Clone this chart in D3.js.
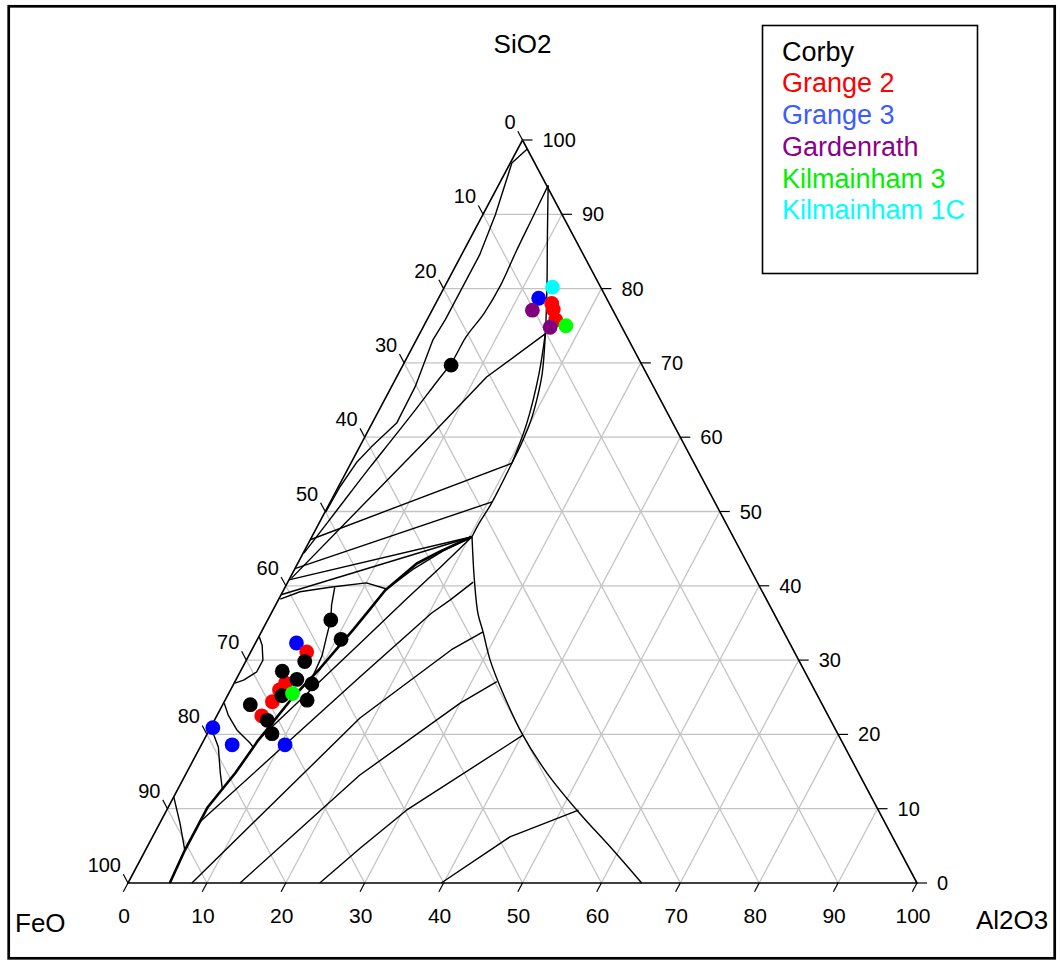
<!DOCTYPE html>
<html><head><meta charset="utf-8">
<script src="https://cdn.jsdelivr.net/npm/d3@7"></script>
<style>
body{margin:0;background:#fff}
svg{display:block}
text{font-family:"Liberation Sans",Arial,Helvetica,sans-serif}
</style>
</head><body>
<svg id="chart" width="1060" height="960"></svg>
<script>
// ---------- data ----------
const tickValues = [0,10,20,30,40,50,60,70,80,90,100];
const gridValues = [10,20,30,40,50,60,70,80,90];
const titleTop = "SiO2", titleLeft = "FeO", titleRight = "Al2O3";
const legendNames = ["Corby","Grange 2","Grange 3","Gardenrath","Kilmainham 3","Kilmainham 1C"];
const legendColors = ["#000000","#ff0000","#3d5cff","#8c008c","#00f000","#00ffff"];

// samples as [FeO, Al2O3, SiO2] (wt %)
const corby = [[24.2,6.1,69.7],[56.6,8.0,35.4],[56.6,10.6,32.8],[62.7,7.5,29.8],[66.2,5.3,28.5],[64.9,7.7,27.4],
  [63.3,9.9,26.8],[67.9,6.9,25.2],[65.0,10.4,24.6],[72.5,3.5,24.0],[71.4,6.7,21.9],[71.7,8.2,20.1]];
const grange2 = [[7.3,14.7,78.0],[7.5,15.3,77.2],[7.9,16.3,75.8],[61.8,7.1,31.1],[66.6,6.5,26.9],[67.8,6.2,26.0],
  [69.5,6.1,24.4],[71.8,5.7,22.5]];
const grange3 = [[8.6,12.7,78.7],[62.5,5.2,32.3],[78.8,0.3,20.9],[77.5,3.9,18.6],[70.8,10.6,18.6]];
const gardenrath = [[10.2,12.7,77.1],[9.1,16.1,74.8]];
const kilmainham3 = [[7.0,18.0,75.0],[66.4,8.1,25.5]];
const kilmainham1C = [[6.1,13.7,80.2]];

// liquidus / field boundary lines as [Al2O3, SiO2]
const silicaCurve = [[1.2,98.8],[0.2,96.9],[1.6,89.9],[2.3,84.5],[2.3,80.2],[2.3,75.8],[2.1,73.1],[3.0,66.8],[3.1,61.9],[1.5,58.7],[0.7,56.7],[0.2,53.3],[0.1,49.9]];
const cristobaliteCurve = [[6.3,93.9],[6.5,89.5],[6.7,84.9],[7.0,80.5],[6.8,76.7],[6.1,73.5],[6.0,70.1],[5.4,67.4],[4.5,63.3],[3.6,59.6],[2.7,56.0],[1.4,50.2],[0.1,44.4]];
const mulliteBoundary = [[6.3,93.9],[9.9,86.5],[13.0,80.2],[15.9,74.0],[18.2,68.6],[19.3,65.0],[20.0,61.9],[20.3,59.0],[20.4,56.5],[20.5,53.3],[20.5,50.7],[20.3,48.6],[20.3,46.6]];
const mulliteBoundary2 = [[15.9,74.0],[17.8,68.6],[19.6,61.9],[20.4,56.5]];
const tridymiteIso1 = [[16.0,74.0],[11.4,68.1],[8.0,59.6],[0.2,41.0]];
const tridymiteIso2 = [[0.0,46.2],[20.4,56.5]];
const tridymiteIso3 = [[0.0,42.3],[20.5,51.3]];
const tridymiteIso4 = [[0.0,40.8],[20.3,46.6]];
const tridymiteIso5 = [[0.0,38.8],[20.3,46.6]];
const fayaliteBoundary = [[0.2,38.2],[2.2,39.2],[5.7,39.8],[10.0,40.4],[12.9,39.6]];
const fayaliteDrop = [[6.3,39.8],[7.1,37.4],[8.0,35.4],[8.6,33.1],[9.3,30.6],[9.5,27.9]];
const hercyniteBoundary = [[5.3,0],[5.0,4.4],[5.0,10.2],[6.2,14.8],[6.9,19.2],[8.4,25.0],[9.9,28.9],[11.5,34.1],[12.2,36.7],[12.9,39.4],[15.1,43.0],[17.2,44.6],[20.3,46.6]];
const hercyniteBoundary2 = [[12.9,39.4],[15.0,42.2],[17.6,44.7],[20.3,46.6]];
const corundumBoundary = [[20.3,46.6],[23.5,40.8],[26.2,36.3],[28.1,33.8],[30.9,30.0],[34.7,25.6],[40.1,19.9],[45.7,14.8],[52.0,9.8],[59.3,4.4],[65.1,0]];
const hercyniteIso1 = [[6.8,19.1],[13.3,32.3],[16.1,38.1],[18.3,42.4],[20.3,46.6]];
const hercyniteIso2 = [[5.0,8.2],[10.6,18.6],[15.5,27.7],[20.3,36.3],[21.8,38.1],[23.5,40.5]];
const hercyniteIso3 = [[8.1,0],[18.3,22.2],[25.3,31.4],[28.1,33.8]];
const hercyniteIso4 = [[14.2,0],[22.1,14.5],[30.0,24.2],[33.2,27.1]];
const hercyniteIso5 = [[24.3,0],[27.1,4.7],[30.4,9.8],[40.1,19.9]];
const hercyniteIso6 = [[39.7,0],[45.3,6.2],[52.2,9.8]];
const wustiteLine1 = [[0.1,33.1],[1.0,32.0],[2.1,30.0],[2.1,28.4],[1.0,27.3],[0.1,26.9]];
const wustiteLine2 = [[0.1,24.2],[1.4,22.6],[3.5,20.6],[6.1,18.8],[6.7,18.3]];
const wustiteLine3 = [[0.0,21.0],[2.3,18.3],[4.3,14.8],[5.6,12.7]];
const wustiteLine4 = [[0.0,11.6],[2.6,8.0],[5.0,4.4]];

// ---------- layout ----------
const svg = d3.select("#chart");
const xBase = d3.scaleLinear().domain([0,100]).range([128,917]);
const yBase = d3.scaleLinear().domain([0,100]).range([883,140]);
const px = (a,s) => xBase(a + s/2);
const py = s => yBase(s);

svg.append("rect").attr("x",8.7).attr("y",6.3).attr("width",1046).attr("height",952)
  .attr("fill","none").attr("stroke","#000").attr("stroke-width",2.7);

// grid
const grid = svg.append("g").attr("stroke","#c4c4c4").attr("stroke-width",1.3);
gridValues.forEach(v => {
  grid.append("line").attr("x1",px(0,v)).attr("y1",py(v)).attr("x2",px(100-v,v)).attr("y2",py(v));
  grid.append("line").attr("x1",px(v,0)).attr("y1",py(0)).attr("x2",px(v,100-v)).attr("y2",py(100-v));
  grid.append("line").attr("x1",px(0,100-v)).attr("y1",py(100-v)).attr("x2",px(100-v,0)).attr("y2",py(0));
});

// phase diagram lines
const lineGen = d3.line().x(d=>px(d[0],d[1])).y(d=>py(d[1]));
const smoothGen = d3.line().x(d=>px(d[0],d[1])).y(d=>py(d[1])).curve(d3.curveCatmullRom.alpha(0.5));
const smoothLines = [cristobaliteCurve,mulliteBoundary,mulliteBoundary2,corundumBoundary];
const straightLines = [silicaCurve,tridymiteIso1,tridymiteIso2,tridymiteIso3,tridymiteIso4,tridymiteIso5,fayaliteBoundary,fayaliteDrop,
  hercyniteIso1,hercyniteIso2,hercyniteIso3,hercyniteIso4,hercyniteIso5,hercyniteIso6,hercyniteBoundary2,
  wustiteLine1,wustiteLine2,wustiteLine3,wustiteLine4];
const pg = svg.append("g").attr("fill","none").attr("stroke","#000").attr("stroke-linejoin","round");
smoothLines.forEach(l => pg.append("path").attr("d",smoothGen(l)).attr("stroke-width",1.4));
straightLines.forEach(l => pg.append("path").attr("d",lineGen(l)).attr("stroke-width",1.4));
pg.append("path").attr("d",lineGen(hercyniteBoundary)).attr("stroke-width",2.6);

// triangle
const tri = [[0,0],[100,0],[0,100]];
svg.append("path").attr("d",lineGen(tri)+"Z").attr("fill","none").attr("stroke","#000").attr("stroke-width",1.6);

// tick directions
const vL = [px(0,0),py(0)], vR = [px(100,0),py(0)], vT = [px(0,100),py(100)];
function unit(a,b){const dx=b[0]-a[0],dy=b[1]-a[1],n=Math.hypot(dx,dy);return [dx/n,dy/n];}
const dBottom = unit(vT,vL);
const dLeft = unit(vR,vT);
const tk = svg.append("g").attr("stroke","#000").attr("stroke-width",1.2);
const lab = svg.append("g").attr("fill","#000").attr("font-size",20);
const tl = 10;
tickValues.forEach(v => {
  let x = px(v,0), y = py(0);
  tk.append("line").attr("x1",x).attr("y1",y).attr("x2",x+tl*dBottom[0]).attr("y2",y+tl*dBottom[1]);
  lab.append("text").attr("x",x-4).attr("y",y+40).attr("text-anchor","middle").attr("font-size",21).text(v);
  x = px(100-v,v); y = py(v);
  tk.append("line").attr("x1",x).attr("y1",y).attr("x2",x+tl).attr("y2",y);
  lab.append("text").attr("x",x+20).attr("y",y+7).attr("text-anchor","start").text(v);
  x = px(0,100-v); y = py(100-v);
  tk.append("line").attr("x1",x).attr("y1",y).attr("x2",x+tl*dLeft[0]).attr("y2",y+tl*dLeft[1]);
  lab.append("text").attr("x",x-7).attr("y",y-11).attr("text-anchor","end").text(v);
});

// titles
svg.append("text").attr("x",px(0,100)).attr("y",53).attr("text-anchor","middle").attr("font-size",26).text(titleTop);
svg.append("text").attr("x",15).attr("y",932).attr("font-size",26).text(titleLeft);
svg.append("text").attr("x",976).attr("y",929).attr("font-size",26).text(titleRight);

// points
const drawOrder = [[grange3,2],[grange2,1],[corby,0],[gardenrath,3],[kilmainham3,4],[kilmainham1C,5]];
const pointColors = ["#000000","#ff0000","#0000ff","#800080","#00ff00","#00ffff"];
const ptG = svg.append("g");
drawOrder.forEach(([arr,ci]) => {
  ptG.selectAll(null).data(arr).enter().append("circle")
    .attr("cx",d=>px(d[1],d[2])).attr("cy",d=>py(d[2])).attr("r",7.4)
    .attr("fill",pointColors[ci]);
});

// legend
const lg = svg.append("g");
lg.append("rect").attr("x",762.5).attr("y",25.5).attr("width",215).attr("height",248)
  .attr("fill","#fff").attr("stroke","#000").attr("stroke-width",1.6);
legendNames.forEach((n,i) => {
  lg.append("text").attr("x",782).attr("y",60.7+i*31.7).attr("font-size",27).attr("fill",legendColors[i]).text(n);
});
</script>
</body></html>
